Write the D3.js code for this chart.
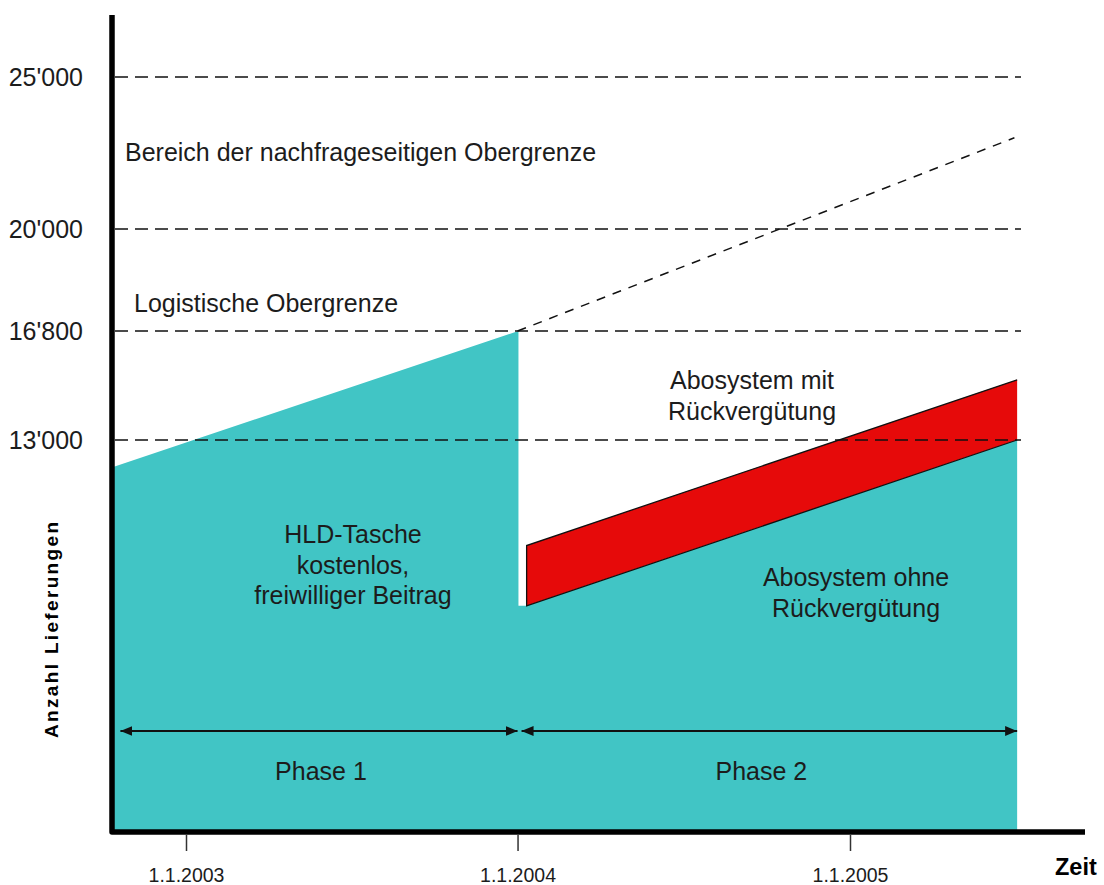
<!DOCTYPE html>
<html>
<head>
<meta charset="utf-8">
<script src="https://cdn.jsdelivr.net/npm/d3@7"></script>
<style>
  html, body { margin: 0; padding: 0; background: #fff; }
  svg { display: block; }
  text { font-family: "Liberation Sans", Arial, Helvetica, sans-serif; fill: #1c1c1c; }
</style>
</head>
<body>
<svg id="chart" width="1104" height="885"></svg>
<script>
// ---- data -------------------------------------------------------------
const yTicks = [13000, 16800, 20000, 25000];
const xTicks = ["2003-01-01", "2004-01-01", "2005-01-01"];

// Phase 1: free bag, capacity grows up to the logistic limit
const phase1Top = [
  { date: "2002-10-12", value: 12100 },
  { date: "2004-01-02", value: 16800 }
];
// subscription without refund (teal, phase 2)
const withoutRefund = [
  { date: "2004-01-02", value: 7500 },
  { date: "2004-01-11", value: 7500 },
  { date: "2005-07-04", value: 13000 }
];
// subscription with refund (red band)
const withRefund = [
  { date: "2004-01-11", lower: 7500, upper: 9500 },
  { date: "2005-07-04", lower: 13000, upper: 15100 }
];
// demand-side upper limit (dashed)
const demandLimit = [
  { date: "2004-01-01", value: 16800 },
  { date: "2005-07-01", value: 23000 }
];
const phases = [
  { label: "Phase 1", start: "2002-10-12", end: "2004-01-01" },
  { label: "Phase 2", start: "2004-01-01", end: "2005-07-04" }
];

// ---- setup ------------------------------------------------------------
const parse = d3.utcParse("%Y-%m-%d");
const TEAL = "#41c5c5";
const RED = "#e60a0a";
const svg = d3.select("#chart");

const x = d3.scaleUtc()
  .domain([parse("2003-01-01"), parse("2005-01-01")])
  .range([186, 850]);

const y = d3.scaleLinear()
  .domain([0, 13000, 16800, 20000, 25000])
  .range([832, 440, 331, 229, 77]);

const fmt = d3.formatLocale({ decimal: ".", thousands: "'", grouping: [3], currency: ["", ""] }).format(",d");

// ---- filled areas ------------------------------------------------------
const area = d3.area()
  .x(d => x(parse(d.date)))
  .y0(y(0))
  .y1(d => y(d.value));

// both phases as one teal shape (step down at the start of phase 2)
svg.append("path").datum(phase1Top.concat(withoutRefund))
  .attr("d", area).attr("fill", TEAL);

const band = d3.area()
  .x(d => x(parse(d.date)))
  .y0(d => y(d.lower))
  .y1(d => y(d.upper));

svg.append("path").datum(withRefund)
  .attr("d", band).attr("fill", RED);

// outline of the red band (top, left and bottom edge)
const first = withRefund[0];
const edge = d3.line().x(d => d[0]).y(d => d[1]);
svg.append("path")
  .attr("d", edge(withRefund.map(d => [x(parse(d.date)), y(d.upper)]).reverse()
      .concat([[x(parse(first.date)), y(first.lower)]])
      .concat(withRefund.slice(1).map(d => [x(parse(d.date)), y(d.lower)]))))
  .attr("fill", "none").attr("stroke", "#111").attr("stroke-width", 1.3);

// ---- dashed reference lines ---------------------------------------------
svg.append("g").selectAll("line").data(yTicks).join("line")
  .attr("x1", 115).attr("x2", 1021)
  .attr("y1", d => y(d)).attr("y2", d => y(d))
  .attr("stroke", "#111").attr("stroke-width", 1.6)
  .attr("stroke-dasharray", "13,7");

const line = d3.line()
  .x(d => x(parse(d.date)))
  .y(d => y(d.value));
svg.append("path").datum(demandLimit)
  .attr("d", line)
  .attr("fill", "none").attr("stroke", "#111").attr("stroke-width", 1.5)
  .attr("stroke-dasharray", "9,8");

// ---- phase arrows -------------------------------------------------------
const defs = svg.append("defs");
["start", "end"].forEach(k => {
  defs.append("marker")
    .attr("id", "arrow-" + k)
    .attr("viewBox", "0 0 12 10")
    .attr("refX", k === "end" ? 12 : 0).attr("refY", 5)
    .attr("markerWidth", 12).attr("markerHeight", 10)
    .attr("markerUnits", "userSpaceOnUse")
    .attr("orient", "auto")
    .append("path")
    .attr("d", k === "end" ? "M0,0 L12,5 L0,10 Z" : "M12,0 L0,5 L12,10 Z")
    .attr("fill", "#111");
});

const arrowY = 731;
const labelShift = [6, -6];
const ph = svg.append("g");
ph.selectAll("line").data(phases).join("line")
  .attr("x1", (d, i) => x(parse(d.start)) + (i === 0 ? 8 : 4))
  .attr("x2", d => x(parse(d.end)))
  .attr("y1", arrowY).attr("y2", arrowY)
  .attr("stroke", "#111").attr("stroke-width", 2)
  .attr("marker-start", "url(#arrow-start)")
  .attr("marker-end", "url(#arrow-end)");
ph.selectAll("text").data(phases).join("text")
  .attr("x", (d, i) => (x(parse(d.start)) + x(parse(d.end))) / 2 + labelShift[i])
  .attr("y", 780)
  .attr("text-anchor", "middle")
  .attr("font-size", 25)
  .text(d => d.label);

// ---- axes ----------------------------------------------------------------
const yAxis = svg.append("g")
  .attr("transform", "translate(112,0)")
  .call(d3.axisLeft(y).tickValues(yTicks).tickSize(0).tickPadding(29).tickFormat(fmt));
yAxis.select(".domain").remove();
yAxis.selectAll("text")
  .attr("font-size", 25).attr("font-family", null).attr("fill", "#1c1c1c");

const xAxis = svg.append("g")
  .attr("transform", "translate(0,835)")
  .call(d3.axisBottom(x).tickValues(xTicks.map(parse)).tickSize(16).tickPadding(17)
    .tickFormat(d3.utcFormat("%-d.%-m.%Y")));
xAxis.select(".domain").remove();
xAxis.selectAll(".tick line").attr("stroke", "#333").attr("stroke-width", 1.5);
xAxis.selectAll("text")
  .attr("font-size", 19.5).attr("font-family", null).attr("fill", "#1c1c1c");

// axis frame
svg.append("path")
  .attr("d", "M112,15 L112,832 L1085,832")
  .attr("fill", "none").attr("stroke", "#000")
  .attr("stroke-width", 5.5).attr("stroke-linejoin", "round");

// axis titles
svg.append("text")
  .attr("transform", "translate(58,630) rotate(-90)")
  .attr("text-anchor", "middle")
  .attr("font-size", 19).attr("font-weight", "bold")
  .attr("textLength", 216).attr("lengthAdjust", "spacing")
  .style("fill", "#000")
  .text("Anzahl Lieferungen");

svg.append("text")
  .attr("x", 1055).attr("y", 875)
  .attr("font-size", 23.5).attr("font-weight", "bold")
  .style("fill", "#000")
  .text("Zeit");

// ---- annotations ----------------------------------------------------------
const notes = [
  { lines: ["Bereich der nachfrageseitigen Obergrenze"], x: 125, y: 161, anchor: "start" },
  { lines: ["Logistische Obergrenze"], x: 134, y: 312, anchor: "start" },
  { lines: ["Abosystem mit", "Rückvergütung"], x: 752, y: 389, anchor: "middle" },
  { lines: ["HLD-Tasche", "kostenlos,", "freiwilliger Beitrag"], x: 353, y: 543, anchor: "middle" },
  { lines: ["Abosystem ohne", "Rückvergütung"], x: 856, y: 586, anchor: "middle" }
];
const lh = 30.5;
notes.forEach(n => {
  const t = svg.append("text")
    .attr("text-anchor", n.anchor)
    .attr("font-size", 25);
  n.lines.forEach((s, i) => {
    t.append("tspan").attr("x", n.x).attr("y", n.y + i * lh).text(s);
  });
});
</script>
</body>
</html>
